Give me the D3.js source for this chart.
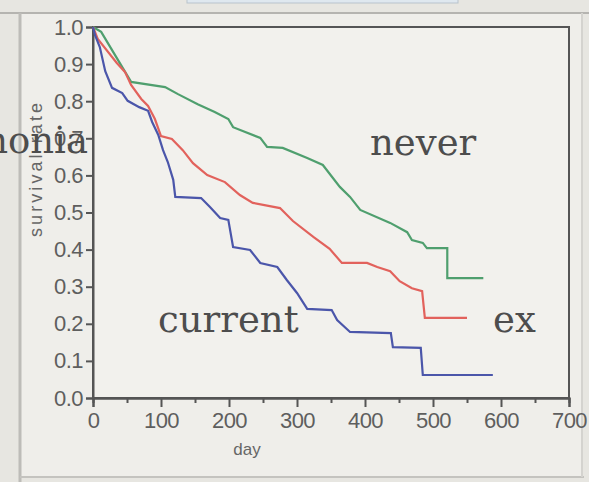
<!DOCTYPE html>
<html><head><meta charset="utf-8">
<script src="https://cdn.jsdelivr.net/npm/d3@7"></script>
<style>html,body{margin:0;padding:0;background:#e7e6e1;}svg{display:block;}</style>
</head><body>
<script>
// ---- data ----
const neverDays = [0,12,56,106,125,154,179,199,206,246,256,279,315,338,363,378,393,437,462,469,485,491,521,521,574];
const neverSurv = [1.0,0.987,0.852,0.838,0.819,0.792,0.771,0.752,0.730,0.701,0.677,0.674,0.647,0.628,0.569,0.542,0.507,0.472,0.447,0.426,0.418,0.404,0.404,0.323,0.323];
const exDays = [0,7,35,47,56,71,81,91,100,116,132,147,168,194,216,235,275,294,324,348,366,403,418,437,451,469,484,488,550];
const exSurv = [1.0,0.968,0.903,0.879,0.844,0.806,0.787,0.752,0.706,0.698,0.668,0.633,0.601,0.582,0.547,0.526,0.512,0.477,0.434,0.402,0.364,0.364,0.353,0.342,0.315,0.296,0.288,0.216,0.216];
const currentDays = [0,3,10,18,28,43,51,68,81,87,96,103,110,118,121,159,172,187,199,206,231,246,271,285,300,315,351,359,378,438,441,482,485,588];
const currentSurv = [1.0,0.978,0.946,0.881,0.836,0.822,0.801,0.784,0.774,0.744,0.709,0.668,0.636,0.588,0.542,0.539,0.515,0.485,0.480,0.407,0.399,0.364,0.353,0.318,0.283,0.240,0.237,0.210,0.178,0.175,0.137,0.135,0.062,0.062];
const xTicks = [0,100,200,300,400,500,600,700];
const yTicks = [0.0,0.1,0.2,0.3,0.4,0.5,0.6,0.7,0.8,0.9,1.0];
const seriesNames = ["never","ex","current"];
const seriesColors = ["#4f9f6e","#e2625c","#4b56aa"];

const W = 589, H = 482;
const svg = d3.select("body").append("svg").attr("width", W).attr("height", H);

// photo frame
svg.append("rect").attr("x",20).attr("y",13).attr("width",562).attr("height",464).attr("fill","#efeeea");
svg.append("line").attr("x1",0).attr("x2",W).attr("y1",13).attr("y2",13).attr("stroke","#b5b4b0").attr("stroke-width",2);
svg.append("line").attr("x1",20).attr("x2",20).attr("y1",13).attr("y2",H).attr("stroke","#bdbcb8").attr("stroke-width",3);
svg.append("line").attr("x1",20).attr("x2",584).attr("y1",477).attr("y2",477).attr("stroke","#c4c3bf").attr("stroke-width",2);
svg.append("line").attr("x1",582).attr("x2",582).attr("y1",13).attr("y2",477).attr("stroke","#d4d3cf").attr("stroke-width",2);
svg.append("rect").attr("x",187).attr("y",-6).attr("width",271).attr("height",9).attr("fill","#dfe8ef").attr("stroke","#b9c3cc").attr("stroke-width",1);

const x = d3.scaleLinear().domain([0,700]).range([93,569]);
const y = d3.scaleLinear().domain([0,1]).range([398,27]);

// plot box
svg.append("rect").attr("x",93).attr("y",27).attr("width",476).attr("height",371)
  .attr("fill","#f2f1ed").attr("stroke","#555").attr("stroke-width",2);

// axes
const axisColor = "#555";
const xAxis = svg.append("g").attr("transform","translate(0,398)")
  .call(d3.axisBottom(x).tickValues(xTicks).tickFormat(d3.format("d")).tickSize(9).tickPadding(5));
const xMinor = svg.append("g").attr("transform","translate(0,398)")
  .call(d3.axisBottom(x).tickValues(d3.range(50,700,100)).tickFormat("").tickSize(5));
const yAxis = svg.append("g").attr("transform","translate(93,0)")
  .call(d3.axisLeft(y).tickValues(yTicks).tickFormat(d3.format(".1f")).tickSize(7).tickPadding(3));
[xAxis,xMinor,yAxis].forEach(g=>{
  g.select(".domain").attr("stroke",axisColor).attr("stroke-width",2);
  g.selectAll(".tick line").attr("stroke",axisColor).attr("stroke-width",2);
  g.selectAll(".tick text").attr("fill","#5e5e5e").attr("font-family","Liberation Sans, Arial, sans-serif")
    .attr("font-size",22).attr("letter-spacing",-0.5);
});
xAxis.selectAll(".tick text").attr("dy","0.72em");

// axis titles
svg.append("text").attr("x",247).attr("y",455).attr("text-anchor","middle")
  .attr("font-family","Liberation Sans, Arial, sans-serif").attr("font-size",17).attr("fill","#666").text("day");
svg.append("text").attr("transform","translate(42,170) rotate(-90)").attr("text-anchor","middle")
  .attr("font-family","Liberation Sans, Arial, sans-serif").attr("font-size",18).attr("fill","#666")
  .attr("textLength",134).attr("lengthAdjust","spacing").text("survival rate");

// curves
const line = d3.line().x(d=>x(d[0])).y(d=>y(d[1])).curve(d3.curveLinear);
const data = [
  d3.zip(neverDays, neverSurv),
  d3.zip(exDays, exSurv),
  d3.zip(currentDays, currentSurv)
];
data.forEach((pts,i)=>{
  svg.append("path").datum(pts).attr("d",line).attr("fill","none")
    .attr("stroke",seriesColors[i]).attr("stroke-width",2.2).attr("stroke-linejoin","miter");
});

// series labels (large serif)
const serif = "DejaVu Serif, Liberation Serif, serif";
svg.append("text").attr("x",370).attr("y",155).attr("font-family",serif).attr("font-size",37).attr("fill","#4d4d4d").text(seriesNames[0]);
svg.append("text").attr("x",493).attr("y",332).attr("font-family",serif).attr("font-size",37).attr("fill","#4d4d4d").text(seriesNames[1]);
svg.append("text").attr("x",158).attr("y",332).attr("font-family",serif).attr("font-size",37).attr("fill","#4d4d4d").text(seriesNames[2]);
svg.append("text").attr("x",88).attr("y",153).attr("text-anchor","end").attr("font-family",serif).attr("font-size",37).attr("fill","#4d4d4d").text("pneumonia");
</script>
</body></html>
